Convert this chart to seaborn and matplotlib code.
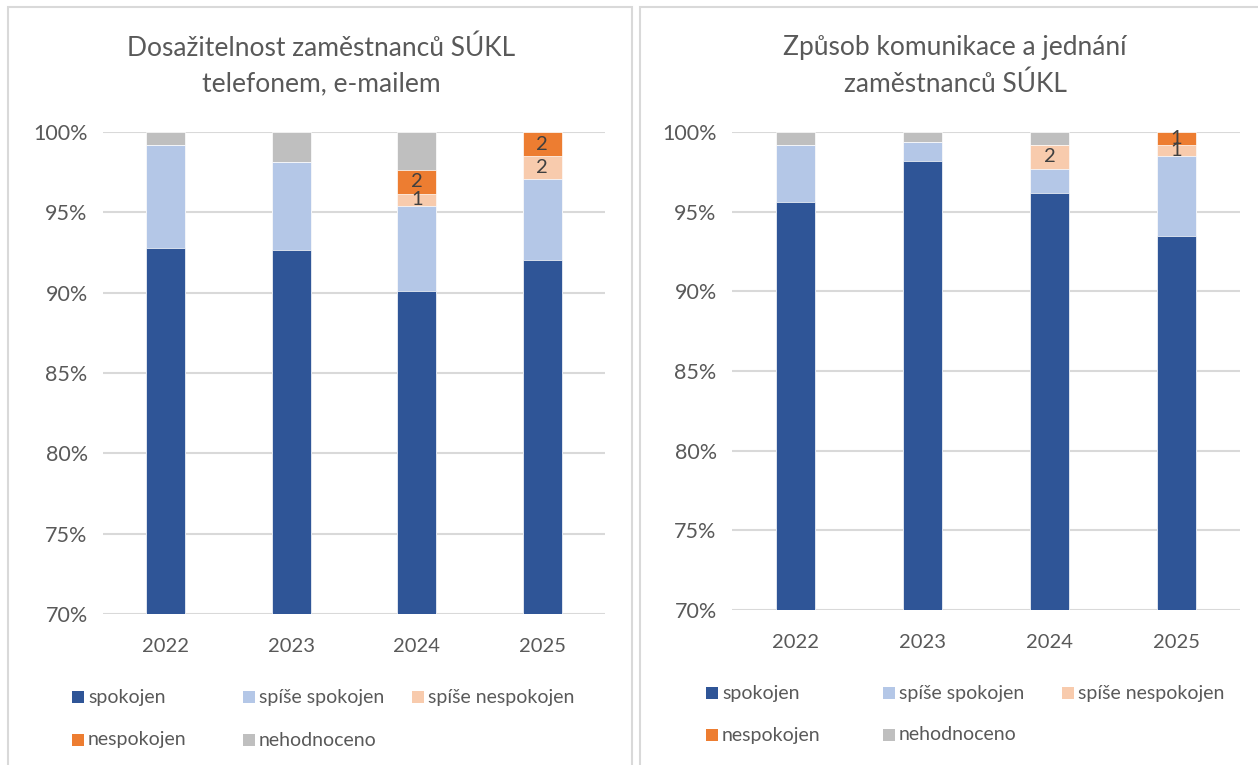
import numpy as np
import pandas as pd
import matplotlib.pyplot as plt
import seaborn as sns
from matplotlib.patches import Rectangle

W, H = 1258, 765

years = ["2022", "2023", "2024", "2025"]
levels = ["spokojen", "spíše spokojen", "spíše nespokojen", "nespokojen", "nehodnoceno"]
colors = ["#2F5597", "#B4C7E7", "#F8CBAD", "#ED7D31", "#BFBFBF"]

# left chart: Dosažitelnost (share in %)
dos_spokojen = [92.75, 92.65, 90.1, 92.05]
dos_spise_spokojen = [6.45, 5.5, 5.3, 5.0]
dos_spise_nespokojen = [0, 0, 0.75, 1.45]
dos_nespokojen = [0, 0, 1.5, 1.5]
dos_nehodnoceno = [0.8, 1.85, 2.35, 0]
dos_lbl_spise_nesp = [None, None, "1", "2"]
dos_lbl_nesp = [None, None, "2", "2"]

# right chart: Způsob komunikace (share in %)
kom_spokojen = [95.6, 98.15, 96.15, 93.5]
kom_spise_spokojen = [3.6, 1.2, 1.55, 5.0]
kom_spise_nespokojen = [0, 0, 1.5, 0.7]
kom_nespokojen = [0, 0, 0, 0.8]
kom_nehodnoceno = [0.8, 0.65, 0.8, 0]
kom_lbl_spise_nesp = [None, None, "2", "1"]
kom_lbl_nesp = [None, None, None, "1"]

yticks = [70, 75, 80, 85, 90, 95, 100]

TXT = "#595959"
GRID = "#D9D9D9"

sns.set_theme(style="white")
plt.rcParams["font.family"] = ["Lato", "DejaVu Sans"]


def px_axes(fig, x0, y0, x1, y1):
    return fig.add_axes([x0 / W, 1 - y1 / H, (x1 - x0) / W, (y1 - y0) / H])


def draw_panel(ax, series, lbl_sn, lbl_n):
    df = pd.DataFrame(series, index=levels, columns=years)
    cum = df.cumsum(axis=0)
    # stacked bars: draw cumulative totals from the top level down
    for i in reversed(range(len(levels))):
        sns.barplot(x=years, y=cum.iloc[i].values, color=colors[i], width=0.31,
                    saturation=1, edgecolor="white", linewidth=0.5, ax=ax, zorder=2)
    for i, lbls in ((2, lbl_sn), (3, lbl_n)):
        for j, lab in enumerate(lbls):
            if lab is None:
                continue
            yc = cum.iloc[i - 1, j] + df.iloc[i, j] / 2
            ax.text(j, yc, lab, ha="center", va="center", fontsize=14.5,
                    color="#404040", zorder=5)
    ax.set_ylim(70, 100)
    ax.set_yticks(yticks)
    ax.set_yticklabels([f"{v}%" for v in yticks])
    ax.yaxis.grid(True, color=GRID, linewidth=1.5, zorder=0)
    ax.set_axisbelow(True)
    for s in ax.spines.values():
        s.set_visible(False)
    ax.tick_params(axis="y", length=0, pad=11, labelsize=15.5, labelcolor=TXT)
    ax.tick_params(axis="x", length=0, pad=17, labelsize=14.5, labelcolor=TXT)
    ax.set_xlabel("")
    ax.set_ylabel("")
    ax.patch.set_alpha(0)


def draw_legend(fig, xs, ys):
    pos = [(xs[0], ys[0]), (xs[1], ys[0]), (xs[2], ys[0]), (xs[0], ys[1]), (xs[1], ys[1])]
    for (x, y), lab, c in zip(pos, levels, colors):
        fig.add_artist(Rectangle((x / W, 1 - (y + 6) / H), 12 / W, 12 / H,
                                 transform=fig.transFigure, color=c, lw=0))
        fig.text((x + 16) / W, 1 - y / H, lab, ha="left", va="center",
                 fontsize=14, color=TXT)


fig = plt.figure(figsize=(W / 100, H / 100), dpi=100)

# panel frames
fig.add_artist(Rectangle((8 / W, -0.05), 624 / W, 1.05 - 7 / H, transform=fig.transFigure,
                         fill=False, edgecolor=GRID, lw=1.5))
fig.add_artist(Rectangle((640 / W, -0.05), 1.0, 1.05 - 7 / H, transform=fig.transFigure,
                         fill=False, edgecolor=GRID, lw=1.5))

ax1 = px_axes(fig, 103, 132, 605, 614)
draw_panel(ax1, [dos_spokojen, dos_spise_spokojen, dos_spise_nespokojen,
                 dos_nespokojen, dos_nehodnoceno], dos_lbl_spise_nesp, dos_lbl_nesp)

ax2 = px_axes(fig, 732, 132, 1240, 610)
draw_panel(ax2, [kom_spokojen, kom_spise_spokojen, kom_spise_nespokojen,
                 kom_nespokojen, kom_nehodnoceno], kom_lbl_spise_nesp, kom_lbl_nesp)

fig.text(321 / W, 1 - 66 / H, "Dosažitelnost zaměstnanců SÚKL\ntelefonem, e-mailem",
         ha="center", va="center", fontsize=19, color=TXT, linespacing=1.55)
fig.text(955 / W, 1 - 66 / H, "Způsob komunikace a jednání\nzaměstnanců SÚKL",
         ha="center", va="center", fontsize=19, color=TXT, linespacing=1.55)

draw_legend(fig, [72, 243, 412], [697, 740])
draw_legend(fig, [706, 883, 1062], [693, 735])

fig.savefig("out.png", dpi=100)
